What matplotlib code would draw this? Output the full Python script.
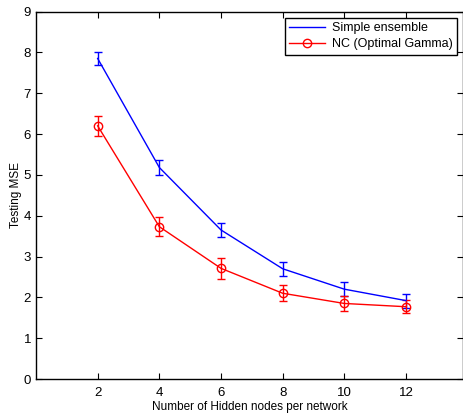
import numpy as np
import matplotlib
matplotlib.use('Agg')
import matplotlib.pyplot as plt
from matplotlib.lines import Line2D

plt.rcParams['font.family'] = ['Liberation Sans', 'DejaVu Sans']

# donnees
hidden = [2, 4, 6, 8, 10, 12]
simple_mse = [7.85, 5.18, 3.65, 2.70, 2.20, 1.92]
simple_err = [0.17, 0.18, 0.18, 0.17, 0.17, 0.17]
nc_mse = [6.20, 3.73, 2.71, 2.10, 1.85, 1.77]
nc_err = [0.25, 0.24, 0.26, 0.19, 0.18, 0.16]

fig = plt.figure(figsize=(4.64, 4.17), dpi=100)
ax = fig.add_axes([36/464, 1-379/417, (463-36)/464, (379-11.5)/417])

ax.errorbar(hidden, simple_mse, yerr=simple_err, color='blue', lw=1,
            elinewidth=1, capsize=3, label='Simple ensemble')
ax.errorbar(hidden, nc_mse, yerr=nc_err, color='red', lw=1, marker='o',
            mfc='none', mec='red', ms=6, elinewidth=1, capsize=3,
            label='NC (Optimal Gamma)')

ax.set_xlim(0, 13.85)
ax.set_ylim(0, 9)
ax.set_xticks(hidden)
ax.set_yticks(range(10))
ax.tick_params(direction='in', top=True, right=True, labelsize=9.5, length=4)
ax.tick_params(axis='x', pad=6)
for s in ax.spines.values():
    s.set_linewidth(1)
ax.set_xlabel('Number of Hidden nodes per network', fontsize=8.5, labelpad=1)
ax.set_ylabel('Testing MSE', fontsize=8.5, labelpad=1)

l = ['Simple ensemble', 'NC (Optimal Gamma)']
h = [Line2D([], [], color='blue', lw=1),
     Line2D([], [], color='red', lw=1, marker='o', mfc='none', ms=6)]
leg = ax.legend(h, l, loc='upper right', fontsize=9, fancybox=False,
                edgecolor='black', framealpha=1, borderaxespad=0.5,
                handlelength=2.9, handletextpad=0.5, borderpad=0.35,
                labelspacing=0.35)
leg.get_frame().set_linewidth(1)

fig.savefig('out.png', dpi=100)
